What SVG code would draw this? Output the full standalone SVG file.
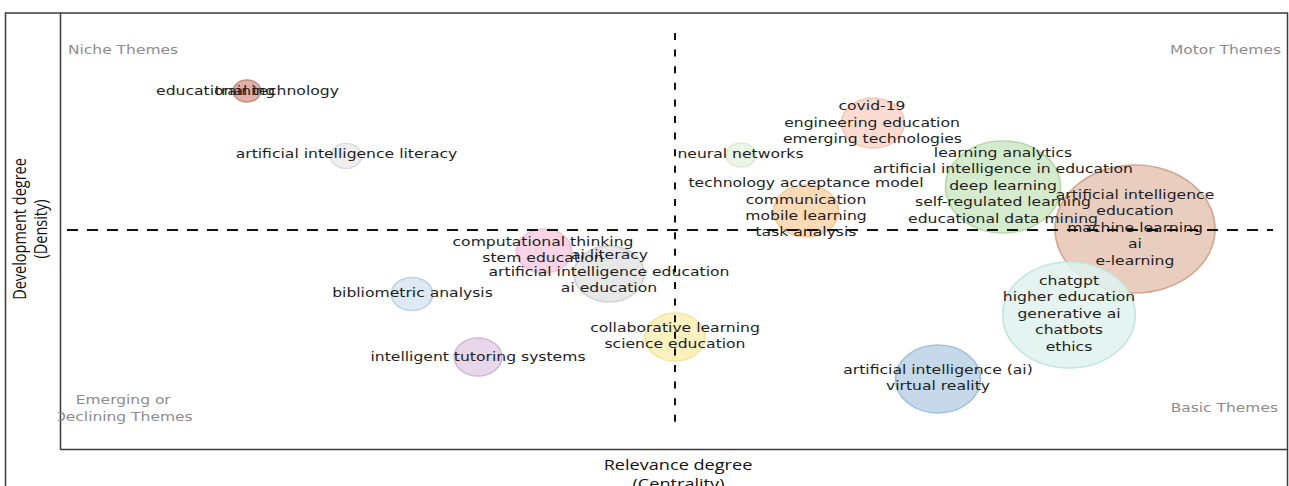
<svg xmlns="http://www.w3.org/2000/svg" width="1289" height="486" viewBox="0 0 1289 486">
<style>
.lbl{font-family:"DejaVu Sans","Verdana",sans-serif;font-size:12.5px;fill:#1e1e1e;text-anchor:middle}
.quad{font-family:"DejaVu Sans","Verdana",sans-serif;font-size:12.4px;fill:#8c8c8c}
.axt{font-family:"Open Sans","Liberation Sans",sans-serif;font-size:14.5px;fill:#111;text-anchor:middle}
.b{stroke-width:1.4}
.frame{fill:none;stroke:#3a3a3a;stroke-width:1.5}
</style>
<defs>
<clipPath id="plotclip"><rect x="46.4" y="13" width="985" height="436"/></clipPath>
</defs>
<rect width="1289" height="486" fill="#ffffff"/>
<g id="frame">
<rect class="frame" x="5.5" y="13" width="1282" height="490"/>
<line class="frame" x1="60.5" y1="13" x2="60.5" y2="449.5"/>
<line class="frame" x1="60.5" y1="449.5" x2="1288" y2="449.5"/>
</g>
<g transform="scale(1.25 1)">
<g id="quadrants" clip-path="url(#plotclip)">
<text class="quad" x="54.4" y="54.5">Niche Themes</text>
<text class="quad" x="1024.8" y="54.5" text-anchor="end">Motor Themes</text>
<text class="quad" x="1022.4" y="412" text-anchor="end">Basic Themes</text>
<text class="quad" x="98.6" y="404" text-anchor="middle">Emerging or</text>
<text class="quad" x="98.6" y="421" text-anchor="middle">Declining Themes</text>
</g>
<g id="bubbles">
<g id="node-training"><circle class="b" cx="197.6" cy="91" r="11" fill="#e0b1aa" stroke="#c98f86"/></g>
<g id="node-ai-literacy-niche"><circle class="b" cx="276.8" cy="156" r="12.5" fill="#efefef" stroke="#dedede"/></g>
<g id="node-covid"><circle class="b" cx="698.4" cy="123" r="25" fill="#fcdcd2" stroke="#f7c6b7"/></g>
<g id="node-neural"><circle class="b" cx="592.8" cy="155" r="12" fill="#eaf5e6" stroke="#d9edd2"/></g>
<g id="node-tam"><circle class="b" cx="644.8" cy="211" r="26" fill="#fddbb6" stroke="#f9ca9c"/></g>
<g id="node-learning-analytics"><circle class="b" cx="802.4" cy="187" r="46" fill="#d5ebce" stroke="#b5daa9"/></g>
<g id="node-ai-education"><circle class="b" cx="908" cy="229" r="64" fill="#e9cdbe" stroke="#d3a790"/></g>
<g id="node-chatgpt"><circle class="b" cx="855.2" cy="315" r="53" fill="#dff2ee" fill-opacity="0.85" stroke="#c3e6de"/></g>
<g id="node-ai-vr"><circle class="b" cx="750.4" cy="379" r="34" fill="#c6d9ea" stroke="#a3c0dc"/></g>
<g id="node-bibliometric"><circle class="b" cx="329.6" cy="294" r="16.5" fill="#dde9f4" stroke="#bcd3e8"/></g>
<g id="node-its"><circle class="b" cx="382.4" cy="357" r="19" fill="#e8d6eb" stroke="#d3b8d9"/></g>
<g id="node-computational"><circle class="b" cx="435.2" cy="251" r="22" fill="#fad5e8" stroke="#f4bdd9"/></g>
<g id="node-ai-literacy"><circle class="b" cx="487.2" cy="274" r="28" fill="#e6e6e6" fill-opacity="0.9" stroke="#d2d2d2"/></g>
<g id="node-collaborative"><circle class="b" cx="540" cy="337" r="24" fill="#fdf1bf" stroke="#f5e49c"/></g>
</g>
<g id="labels">
<g id="node-training-labels">
<text class="lbl" x="198" y="95">educational technology</text>
<text class="lbl" x="196" y="95">training</text>
</g>
<g id="node-ai-literacy-niche-labels">
<text class="lbl" x="277.2" y="158.5">artificial intelligence literacy</text>
</g>
<g id="node-covid-labels">
<text class="lbl" x="697.6" y="110">covid-19</text>
<text class="lbl" x="697.6" y="127">engineering education</text>
<text class="lbl" x="698" y="143.5">emerging technologies</text>
</g>
<g id="node-neural-labels">
<text class="lbl" x="592.4" y="158.5">neural networks</text>
</g>
<g id="node-tam-labels">
<text class="lbl" x="644.8" y="187.5">technology acceptance model</text>
<text class="lbl" x="644.8" y="204">communication</text>
<text class="lbl" x="644.8" y="220">mobile learning</text>
<text class="lbl" x="644.8" y="236.5">task analysis</text>
</g>
<g id="node-learning-analytics-labels">
<text class="lbl" x="802.4" y="157">learning analytics</text>
<text class="lbl" x="802.4" y="173.5">artificial intelligence in education</text>
<text class="lbl" x="802.4" y="190">deep learning</text>
<text class="lbl" x="802.4" y="206.5">self-regulated learning</text>
<text class="lbl" x="802.4" y="223">educational data mining</text>
</g>
<g id="node-ai-education-labels">
<text class="lbl" x="908" y="199">artificial intelligence</text>
<text class="lbl" x="908" y="215.5">education</text>
<text class="lbl" x="908" y="232">machine learning</text>
<text class="lbl" x="908" y="248.5">ai</text>
<text class="lbl" x="908" y="265">e-learning</text>
</g>
<g id="node-chatgpt-labels">
<text class="lbl" x="855.2" y="285">chatgpt</text>
<text class="lbl" x="855.2" y="301.5">higher education</text>
<text class="lbl" x="855.2" y="318">generative ai</text>
<text class="lbl" x="855.2" y="334.5">chatbots</text>
<text class="lbl" x="855.2" y="351">ethics</text>
</g>
<g id="node-ai-vr-labels">
<text class="lbl" x="750.4" y="374">artificial intelligence (ai)</text>
<text class="lbl" x="750.4" y="390">virtual reality</text>
</g>
<g id="node-bibliometric-labels">
<text class="lbl" x="330" y="297">bibliometric analysis</text>
</g>
<g id="node-its-labels">
<text class="lbl" x="382.4" y="361">intelligent tutoring systems</text>
</g>
<g id="node-computational-labels">
<text class="lbl" x="434.4" y="246">computational thinking</text>
<text class="lbl" x="434.4" y="262.5">stem education</text>
</g>
<g id="node-ai-literacy-labels">
<text class="lbl" x="487.6" y="259.3">ai literacy</text>
<text class="lbl" x="487.2" y="275.8">artificial intelligence education</text>
<text class="lbl" x="487.2" y="292.3">ai education</text>
</g>
<g id="node-collaborative-labels">
<text class="lbl" x="540" y="331.7">collaborative learning</text>
<text class="lbl" x="540" y="348.3">science education</text>
</g>
</g>
<g id="axis-titles">
<text class="axt" x="542.4" y="470.5">Relevance degree</text>
<text class="axt" x="542.8" y="489">(Centrality)</text>
<text class="axt" transform="translate(20.8 229) rotate(-90)">Development degree</text>
<text class="axt" transform="translate(37.6 229) rotate(-90)">(Density)</text>
</g>
</g>
<g id="connectors" fill="none" stroke="#111" stroke-width="2">
<line x1="67" y1="230" x2="1273" y2="230" stroke-dasharray="11 9"/>
<line x1="675" y1="33" x2="675" y2="428" stroke-dasharray="7 9.6"/>
</g>
</svg>
